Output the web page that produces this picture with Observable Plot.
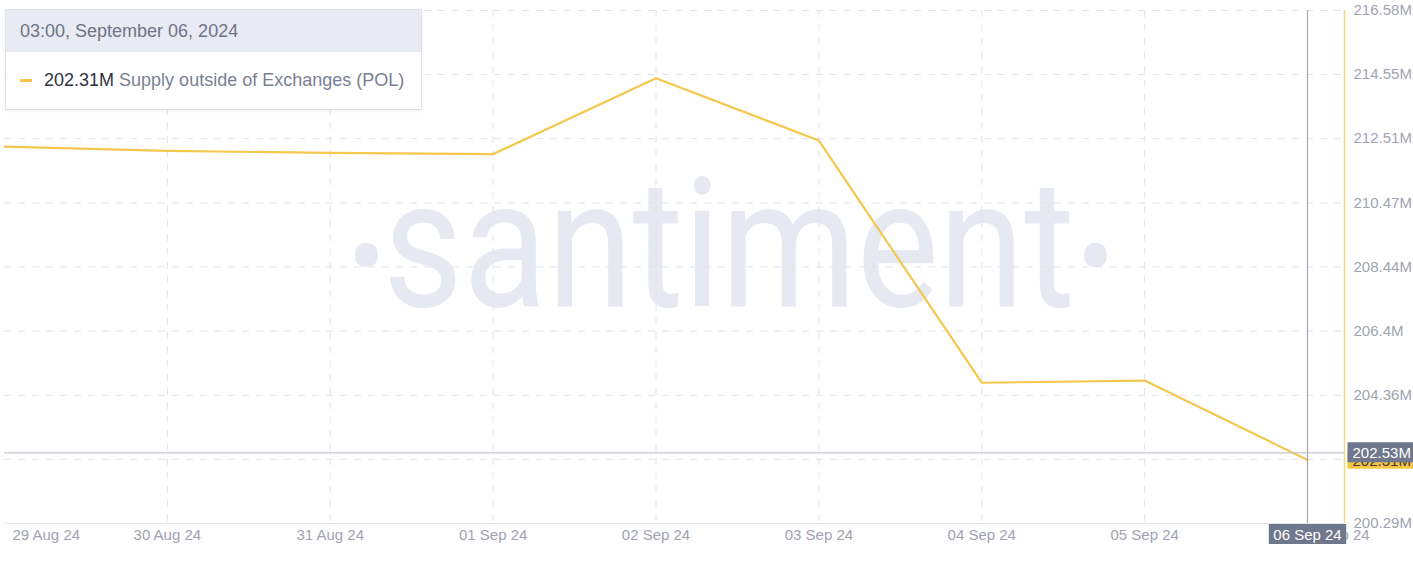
<!DOCTYPE html>
<html>
<head>
<meta charset="utf-8">
<script src="https://cdn.jsdelivr.net/npm/d3@7"></script>
<script src="https://cdn.jsdelivr.net/npm/@observablehq/plot@0.6"></script>
<style>
html, body { margin: 0; padding: 0; background: #fff; }
#wrap { position: relative; width: 1413px; height: 562px; overflow: hidden; font-family: "Liberation Sans", Arial, sans-serif; }
#tip { position: absolute; left: 5px; top: 9px; width: 417px; height: 101px; border: 1px solid #dfe1e8; background: #fff; box-sizing: border-box; box-shadow: 0 1px 3px rgba(0,0,0,0.06); }
#tip .hd { height: 42px; background: #e8eaf4; color: #6f7486; font-size: 18px; line-height: 42px; padding-left: 14px; }
#tip .bd { position: relative; height: 56px; font-size: 18px; line-height: 24px; padding-top: 16px; padding-left: 38px; box-sizing: border-box; white-space: nowrap; }
#tip .dash { position: absolute; left: 14px; top: 27px; width: 12px; height: 2.5px; background: #f3c64a; }
#tip .val { color: #2f3240; }
#tip .name { color: #7a7f92; }
</style>
</head>
<body>
<div id="wrap"></div>
<script>
// ---- data ----
const dates = ["2024-08-29", "2024-08-30", "2024-08-31", "2024-09-01", "2024-09-02", "2024-09-03", "2024-09-04", "2024-09-05", "2024-09-06"];
const supply = [212.26, 212.12, 212.06, 212.02, 214.43, 212.45, 204.76, 204.83, 202.31];
const xTickLabels = ["29 Aug 24", "30 Aug 24", "31 Aug 24", "01 Sep 24", "02 Sep 24", "03 Sep 24", "04 Sep 24", "05 Sep 24", "06 Sep 24"];
const yTicks = [200.29, 202.33, 204.36, 206.40, 208.44, 210.47, 212.51, 214.55, 216.58];
const hoverDate = "2024-09-06";
const hoverValue = 202.31;
const crosshairValue = 202.53;
const tooltipTitle = "03:00, September 06, 2024";
const seriesName = "Supply outside of Exchanges (POL)";
const watermark = "santiment";
const watermarkDot = "•";

const data = dates.map((d, i) => ({date: new Date(d), value: supply[i], label: xTickLabels[i]}));
const xDomain = [new Date("2024-08-29T00:00Z"), new Date("2024-09-06T05:27Z")];
const fmtM = d => `${+d.toFixed(2)}M`;
const axisColor = "#9fa3b0";
const wmColor = "#e7e9f2";

const chart = Plot.plot({
  width: 1413,
  height: 562,
  marginLeft: 4,
  marginRight: 69,
  marginTop: 10,
  marginBottom: 39,
  style: {fontFamily: "'Liberation Sans', Arial, sans-serif", fontSize: "15px", background: "#fff", overflow: "visible"},
  x: {type: "utc", domain: xDomain, axis: null},
  y: {type: "linear", domain: [yTicks[0], yTicks[yTicks.length - 1]], axis: null},
  marks: [
    Plot.text([watermark], {frameAnchor: "middle", dx: 54.5, dy: -19, fontSize: 180, fontWeight: 400, fontFamily: "Roboto", fill: wmColor, ariaDescription: "wm-word"}),
    Plot.text([watermarkDot], {frameAnchor: "middle", dx: -308, dy: -6.5, fontSize: 113, fontFamily: "Roboto", fill: wmColor}),
    Plot.text([watermarkDot], {frameAnchor: "middle", dx: 421, dy: -6.5, fontSize: 113, fontFamily: "Roboto", fill: wmColor}),
    Plot.gridY(yTicks, {stroke: "#e2e3e8", strokeOpacity: 1, strokeDasharray: "7,7"}),
    Plot.gridX(data.slice(1).map(d => d.date), {stroke: "#e2e3e8", strokeOpacity: 1, strokeDasharray: "7,7"}),
    Plot.ruleY([yTicks[0]], {stroke: "#e4e5ea"}),
    Plot.ruleX([xDomain[1]], {stroke: "#f6d77a", strokeWidth: 1.5}),
    Plot.line(data, {x: "date", y: "value", stroke: "#f4c84e", strokeWidth: 2.2}),
    Plot.ruleX([new Date(hoverDate)], {stroke: "#a4a9b8", strokeWidth: 1.2}),
    Plot.ruleY([crosshairValue], {stroke: "#c0c4ce", strokeWidth: 1.2}),
    // y tick labels
    Plot.text(yTicks, {y: d => d, text: fmtM, frameAnchor: "right", textAnchor: "start", dx: 9, fill: axisColor}),
    // x tick labels
    Plot.text(data.slice(0, 1), {x: "date", text: "label", frameAnchor: "bottom", dy: 16, dx: 8, textAnchor: "start", fill: axisColor}),
    Plot.text(data.slice(1, -1), {x: "date", text: "label", frameAnchor: "bottom", dy: 16, fill: axisColor}),
    Plot.text(data.slice(-1), {x: "date", text: "label", frameAnchor: "bottom", dy: 16, dx: 28, fill: axisColor}),
    // last value label (yellow)
    Plot.text([hoverValue], {y: d => d, text: fmtM, frameAnchor: "right", textAnchor: "start", dx: 8, dy: 1, fill: "#3a3a3a", ariaDescription: "lbl-yellow"}),
    // crosshair value label
    Plot.text([crosshairValue], {y: d => d, text: fmtM, frameAnchor: "right", textAnchor: "start", dx: 8, fill: "#ffffff", ariaDescription: "lbl-grey"}),
    // crosshair date label
    Plot.text([new Date(hoverDate)], {x: d => d, text: () => xTickLabels[xTickLabels.length - 1], frameAnchor: "bottom", dy: 16, fill: "#ffffff", ariaDescription: "lbl-date"})
  ]
});

const wrap = document.getElementById("wrap");
wrap.appendChild(chart);

function textsOf(desc) {
  return Array.from(chart.querySelectorAll("text")).filter(t => {
    const g = t.closest("g[aria-description]");
    return (g && g.getAttribute("aria-description") === desc) || t.getAttribute("aria-description") === desc;
  });
}

// narrow the watermark word around its centre
textsOf("wm-word").forEach(t => {
  const b = t.getBBox();
  const cx = b.x + b.width / 2;
  const orig = t.getAttribute("transform") || "";
  t.setAttribute("transform", `${orig} translate(${cx},0) scale(0.86,1) translate(${-cx},0)`);
});

function boxify(desc, fill, padL, padR, padT, padB, fullRight) {
  textsOf(desc).forEach(t => {
    const b = t.getBBox();
    const r = document.createElementNS("http://www.w3.org/2000/svg", "rect");
    const tr = t.getAttribute("transform");
    if (tr) r.setAttribute("transform", tr);
    r.setAttribute("x", b.x - padL);
    r.setAttribute("y", b.y - padT);
    r.setAttribute("width", fullRight ? 200 : b.width + padL + padR);
    r.setAttribute("height", b.height + padT + padB);
    r.setAttribute("fill", fill);
    t.parentNode.insertBefore(r, t);
  });
}
boxify("lbl-yellow", "#f5c542", 5, 0, 0, 0, true);
boxify("lbl-grey", "#6f778c", 5, 0, 1.5, 1.5, true);
boxify("lbl-date", "#6f778c", 4.5, 4.5, 1.5, 1.5, false);

// tooltip overlay
const tip = document.createElement("div");
tip.id = "tip";
tip.innerHTML = `<div class="hd"></div><div class="bd"><span class="dash"></span><span class="val"></span> <span class="name"></span></div>`;
tip.querySelector(".hd").textContent = tooltipTitle;
tip.querySelector(".val").textContent = fmtM(hoverValue);
tip.querySelector(".name").textContent = seriesName;
wrap.appendChild(tip);
</script>
</body>
</html>
